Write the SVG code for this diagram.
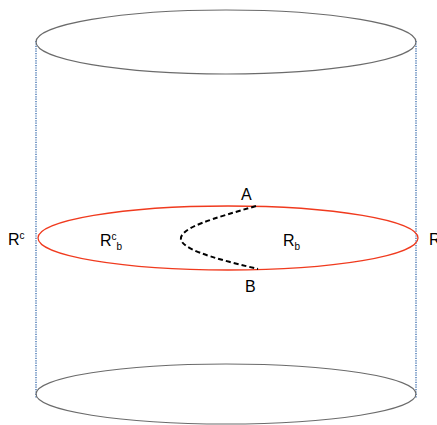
<svg xmlns="http://www.w3.org/2000/svg" width="437" height="425" viewBox="0 0 437 425">
<style>
.cap{fill:none;stroke:#6b6b6b;stroke-width:1.1}
.side{stroke:#7a9cc8;stroke-width:2;stroke-dasharray:1.2 1.2}
.t{font-family:"Liberation Sans",Arial,sans-serif;font-size:16px;fill:#000}
.s{font-size:10px}
</style>
<g id="sides">
<line class="side" x1="36" y1="41" x2="36" y2="398"/>
<line class="side" x1="416" y1="41" x2="416" y2="398"/>
</g>
<g id="top"><ellipse class="cap" cx="226" cy="42" rx="190" ry="32"/></g>
<g id="bottom"><ellipse class="cap" cx="226" cy="394" rx="190" ry="30"/></g>
<g id="boundary"><ellipse cx="228" cy="238" rx="190" ry="32" fill="none" stroke="#f03a1e" stroke-width="1.3"/></g>
<g id="connectors">
<path d="M256 206 C 215 218, 178 228, 181 240 C 185 252, 230 262, 258 269" fill="none" stroke="#000" stroke-width="2" stroke-dasharray="5 3"/>
</g>
<g id="labels">
<text class="t" x="8" y="245">R<tspan class="s" dy="-6">c</tspan></text>
<text class="t" x="429" y="245">R</text>
<text class="t" x="100" y="246">R<tspan class="s" dy="-6">c</tspan><tspan class="s" dy="10">b</tspan></text>
<text class="t" x="283" y="246">R<tspan class="s" dy="4">b</tspan></text>
<text class="t" x="241" y="200">A</text>
<text class="t" x="245" y="292">B</text>
</g>
</svg>
